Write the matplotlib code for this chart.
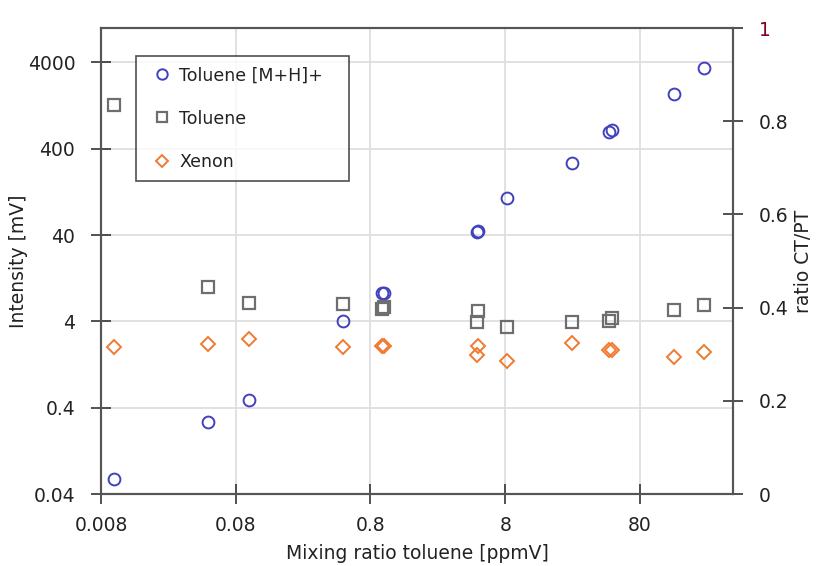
import matplotlib
matplotlib.use("Agg")
import matplotlib.pyplot as plt
from matplotlib.ticker import FixedLocator, FixedFormatter, NullLocator

# ---- data ----
mixing_ratio = [0.01, 0.05, 0.1, 0.5, 0.98, 1.0, 4.9, 5.0, 8.2, 25, 47.5, 50, 144, 240]
toluene_mh = [0.06, 0.27, 0.49, 4.07, 8.45, 8.6, 43.5, 44.5, 106, 273, 617, 650, 1715, 3450]
toluene = [0.834, 0.444, 0.409, 0.407, 0.398, 0.401, 0.369, 0.393, 0.359, 0.369, 0.372, 0.378, 0.394, 0.405]
xenon = [0.316, 0.322, 0.332, 0.316, 0.317, 0.317, 0.298, 0.318, 0.285, 0.323, 0.308, 0.308, 0.295, 0.304]

x_ticks = [0.008, 0.08, 0.8, 8, 80]
x_ticklabels = ["0.008", "0.08", "0.8", "8", "80"]
yl_ticks = [0.04, 0.4, 4, 40, 400, 4000]
yl_ticklabels = ["0.04", "0.4", "4", "40", "400", "4000"]
yr_ticks = [0, 0.2, 0.4, 0.6, 0.8, 1]
yr_ticklabels = ["0", "0.2", "0.4", "0.6", "0.8", "1"]

c_blue = "#4141bd"
c_grey = "#6e6e6e"
c_orange = "#f27a30"
c_text = "#222222"
c_spine = "#555555"

fig = plt.figure(figsize=(8.16, 5.66), dpi=100)
ax = fig.add_axes([101/816, 72/566, 632/816, 466/566])
ax2 = ax.twinx()

ax.set_xscale("log")
ax.set_yscale("log")
ax.set_xlim(0.008, 392)
ax.set_ylim(0.04, 10000)
ax2.set_ylim(0, 1)

# grid
for xv in x_ticks[1:]:
    ax.axvline(xv, color="#dedede", lw=1.3, zorder=0)
for yv in yl_ticks[1:]:
    ax.axhline(yv, color="#dedede", lw=1.3, zorder=0)

l1, = ax.plot(mixing_ratio, toluene_mh, ls="none", marker="o", ms=8.5,
              mfc="none", mec=c_blue, mew=1.4, label="Toluene [M+H]+")
l2, = ax2.plot(mixing_ratio, toluene, ls="none", marker="s", ms=8,
               mfc="none", mec=c_grey, mew=1.6, label="Toluene")
l3, = ax2.plot(mixing_ratio, xenon, ls="none", marker="D", ms=6.8,
               mfc="none", mec=c_orange, mew=1.4, label="Xenon")

# ticks
ax.xaxis.set_major_locator(FixedLocator(x_ticks))
ax.xaxis.set_major_formatter(FixedFormatter(x_ticklabels))
ax.xaxis.set_minor_locator(NullLocator())
ax.yaxis.set_major_locator(FixedLocator(yl_ticks))
ax.yaxis.set_major_formatter(FixedFormatter(yl_ticklabels))
ax.yaxis.set_minor_locator(NullLocator())
ax2.yaxis.set_major_locator(FixedLocator(yr_ticks))
ax2.yaxis.set_major_formatter(FixedFormatter(yr_ticklabels))
ax2.yaxis.set_minor_locator(NullLocator())

for a in (ax, ax2):
    a.tick_params(direction="inout", length=15, width=1.2, color="#333333",
                  labelsize=13.5, labelcolor=c_text)
    for s in a.spines.values():
        s.set_color(c_spine)
        s.set_linewidth(1.5)
ax.tick_params(axis="x", pad=8)
ax.tick_params(axis="y", pad=11)
ax2.tick_params(axis="y", pad=11)
ax2.get_yticklabels()[-1].set_color("#800020")

ax.set_xlabel("Mixing ratio toluene [ppmV]", fontsize=13.5,
              color=c_text, labelpad=7)
ax.set_ylabel("Intensity [mV]", fontsize=13.5,
              color=c_text, labelpad=0)
ax2.set_ylabel("ratio CT/PT", fontsize=13.5,
               color=c_text, labelpad=4)

leg = ax2.legend(handles=[l1, l2, l3], loc="upper left",
                 bbox_to_anchor=(0.0554, 0.652, 0.337, 0.288), mode="expand",
                 borderaxespad=0, frameon=True, fancybox=False,
                 prop={"size": 12.5},
                 labelspacing=1.45, borderpad=0.6, handlelength=1.8,
                 handletextpad=0.1, markerscale=0.88, numpoints=1)
leg.get_frame().set_edgecolor("#222222")
leg.get_frame().set_linewidth(1.2)
for t in leg.get_texts():
    t.set_color(c_text)

fig.savefig("out.png", dpi=100)
